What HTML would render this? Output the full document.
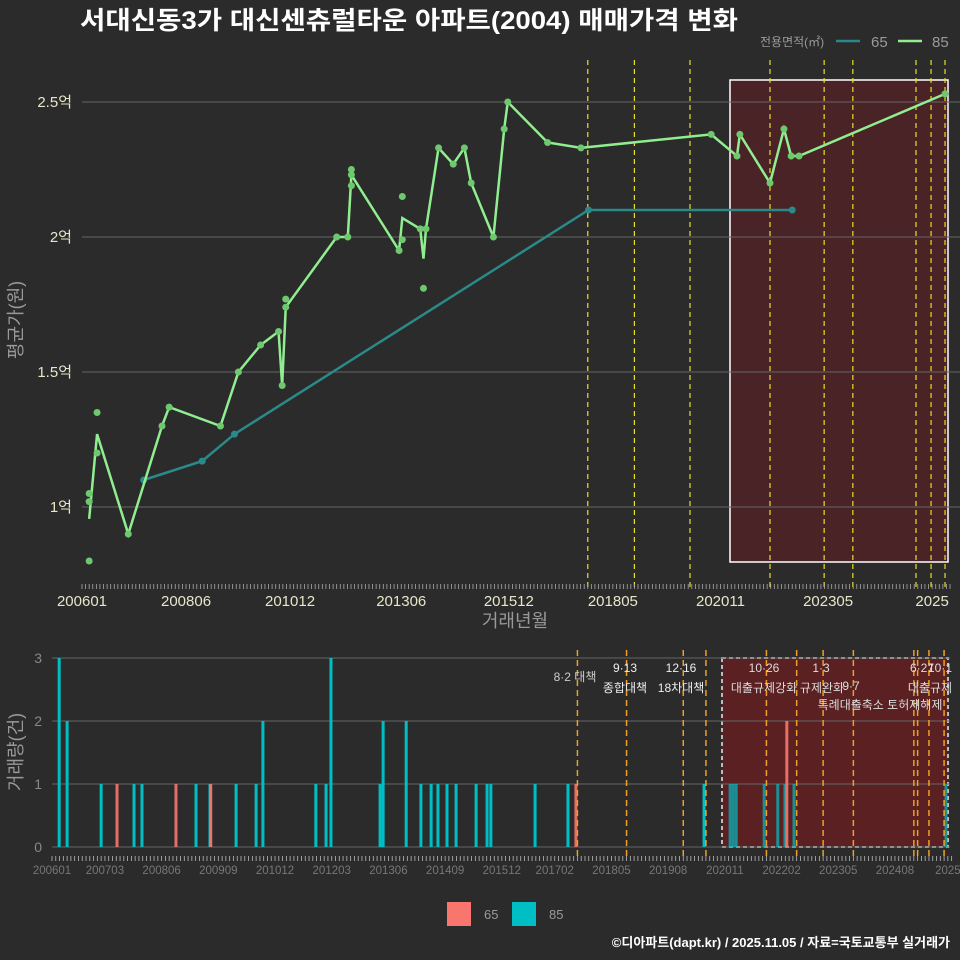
<!DOCTYPE html>
<html><head><meta charset="utf-8"><style>
html,body{margin:0;padding:0;background:#2b2b2b;}
svg{display:block;font-family:"Liberation Sans","Noto Sans CJK KR",sans-serif;}
</style></head><body>
<svg id="c" width="960" height="960" viewBox="0 0 960 960" xmlns="http://www.w3.org/2000/svg">
<rect width="960" height="960" fill="#2b2b2b"/>
<text x="80" y="29" fill="#ffffff" font-size="25" font-weight="bold" textLength="658" lengthAdjust="spacingAndGlyphs">서대신동3가 대신센츄럴타운 아파트(2004) 매매가격 변화</text>
<g>
<text x="760" y="46" fill="#9a9a9a" font-size="12">전용면적(㎡)</text>
<line x1="836" y1="41" x2="860" y2="41" stroke="#2a8a8a" stroke-width="2.5"/>
<text x="871" y="47" fill="#9a9a9a" font-size="15">65</text>
<line x1="898" y1="41" x2="922" y2="41" stroke="#90ee90" stroke-width="2.5"/>
<text x="932" y="47" fill="#9a9a9a" font-size="15">85</text>
</g>
<g id="topChart"></g>
<g id="botChart"></g>
<g>
<rect x="447" y="902" width="24" height="24" fill="#f8766d"/>
<text x="484" y="919" fill="#9a9a9a" font-size="13">65</text>
<rect x="512" y="902" width="24" height="24" fill="#00bfc4"/>
<text x="549" y="919" fill="#9a9a9a" font-size="13">85</text>
</g>
<text x="950" y="947" text-anchor="end" fill="#ffffff" font-size="13" font-weight="bold">©디아파트(dapt.kr) / 2025.11.05 / 자료=국토교통부 실거래가</text>
</svg>
<script>
// ---- top chart data (months since 2006-01, value in 억) ----
const lineMonths85 = [2.0,4.2,12.9,22.3,24.3,38.6,43.6,49.8,54.8,55.8,56.8,71.0,74.1,75.1,88.4,89.3,94.3,95.2,95.9,99.4,103.5,106.6,108.5,114.7,117.7,118.7,129.8,139.1,175.4,182.6,183.4,191.8,195.7,197.7,199.9,240.6];
const lineValues85 = [0.956,1.27,0.90,1.30,1.37,1.30,1.50,1.60,1.65,1.45,1.74,2.0,2.0,2.23,1.95,2.07,2.03,1.92,2.03,2.33,2.27,2.33,2.20,2.0,2.40,2.50,2.35,2.33,2.38,2.30,2.38,2.20,2.40,2.30,2.30,2.53];
const dotMonths85 = [2.0,2.0,2.0,4.2,4.2,12.9,22.3,24.3,38.6,43.6,49.8,54.8,55.8,56.8,56.8,71.0,74.1,75.1,75.1,75.1,88.4,89.3,89.3,94.3,95.2,95.9,99.4,103.5,106.6,108.5,114.7,117.7,118.7,129.8,139.1,175.4,182.6,183.4,191.8,195.7,197.7,199.9,240.6];
const dotValues85 = [1.05,1.02,0.80,1.35,1.20,0.90,1.30,1.37,1.30,1.50,1.60,1.65,1.45,1.74,1.77,2.0,2.0,2.25,2.23,2.19,1.95,2.15,1.99,2.03,1.81,2.03,2.33,2.27,2.33,2.20,2.0,2.40,2.50,2.35,2.33,2.38,2.30,2.38,2.20,2.40,2.30,2.30,2.53];
const lineMonths65 = [17.2,33.5,42.5,141.2,198];
const lineValues65 = [1.10,1.17,1.27,2.10,2.10];
const topEventMonths = [141,154,169.5,191.8,206.9,214.9,232.5,236.7,240.6];
const topYTicks = [1,1.5,2,2.5];
const topYTickLabels = ["1억","1.5억","2억","2.5억"];
const topXTickMonths = [0,29,58,89,119,148,178,208,237];
const topXTickLabels = ["200601","200806","201012","201306","201512","201805","202011","202305","2025"];
// ---- bottom chart data ----
const barMonths85 = [1.9,4,13,21.7,23.8,38.1,41.8,48.7,54,55.8,69.8,72.5,73.8,86.8,87.6,93.7,97.6,100.3,102.1,104.5,106.9,112.2,115.1,116.1,127.8,136.5,172.5,179.4,180.2,181,188.4,192,193.9,196.3,236.5];
const barCounts85 = [3,2,1,1,1,1,1,1,1,2,1,1,3,1,2,2,1,1,1,1,1,1,1,1,1,1,1,1,1,1,1,1,1,1,1];
const barMonths65 = [17.2,32.8,42,138.6,194.4];
const barCounts65 = [1,1,1,1,2];
const botEventMonths = [139,152,167,173,189,197,204,212,228,229,232,236];
const botYTicks = [0,1,2,3];
const botXTickMonths = [0,14,29,44,59,74,89,104,119,133,148,163,178,193,208,223,237];
const botXTickLabels = ["200601","200703","200806","200909","201012","201203","201306","201409","201512","201702","201805","201908","202011","202202","202305","202408","2025"];

const NS="http://www.w3.org/2000/svg";
function mk(p,tag,at){const e=document.createElementNS(NS,tag);for(const k in at)e.setAttribute(k,at[k]);p.appendChild(e);return e;}
const tx=m=>82+m*3.587, ty=v=>507-(v-1)*270;
const bx=m=>52+m*3.78, by=v=>847-v*63;

const topG=document.getElementById('topChart');
let r=mk(topG,'rect',{x:730,y:80,width:218,height:482,fill:'#4a2326',stroke:'#ffffff','stroke-width':1.5});


topYTicks.forEach((v,i)=>{
 let l=mk(topG,'line',{x1:82,x2:960,y1:ty(v),y2:ty(v),stroke:'#666','stroke-width':1});
 
 
 let t=mk(topG,'text',{x:72,y:ty(v)+5,'text-anchor':'end',fill:'#e8e6c8','font-size':15});
 t.textContent=topYTickLabels[i];
 
 
});
topEventMonths.forEach(m=>{
 let l=mk(topG,'line',{x1:tx(m),x2:tx(m),y1:60,y2:588,stroke:'#e8e020','stroke-width':1.2,'stroke-dasharray':'5,4'});
 
 
});
for(let m=0;m<=242;m++){let l=mk(topG,'line',{x1:tx(m),x2:tx(m),y1:584,y2:589,stroke:'#aaa','stroke-width':0.8});
 
 }
topXTickMonths.forEach((m,i)=>{
 let t=mk(topG,'text',{x:tx(m),y:606,'text-anchor':'middle',fill:'#e8e6c8','font-size':15});
 t.textContent=topXTickLabels[i];
 
 
});
let xt=mk(topG,'text',{x:515,y:627,'text-anchor':'middle',fill:'#999','font-size':18});
xt.textContent='거래년월';


let yt=mk(topG,'text',{x:0,y:0,'text-anchor':'middle',fill:'#999','font-size':18,transform:'translate(22,320) rotate(-90)'});
yt.textContent='평균가(원)';


let p65=mk(topG,'polyline',{points:lineMonths65.map((m,i)=>tx(m)+','+ty(lineValues65[i])).join(' '),fill:'none',stroke:'#2a8a8a','stroke-width':2.5});


lineMonths65.forEach((m,i)=>{let c=mk(topG,'circle',{cx:tx(m),cy:ty(lineValues65[i]),r:3.5,fill:'#2a8a8a'});
 
 });
let p85=mk(topG,'polyline',{points:lineMonths85.map((m,i)=>tx(m)+','+ty(lineValues85[i])).join(' '),fill:'none',stroke:'#90ee90','stroke-width':2.5});


dotMonths85.forEach((m,i)=>{let c=mk(topG,'circle',{cx:tx(m),cy:ty(dotValues85[i]),r:3.5,fill:'#6ec86e'});
 
 });

const botG=document.getElementById('botChart');
let r2=mk(botG,'rect',{x:722,y:658,width:226,height:189,fill:'#5a2022',stroke:'#bbbbbb','stroke-width':2,'stroke-dasharray':'4,3'});


botYTicks.forEach(v=>{
 let l=mk(botG,'line',{x1:52,x2:950,y1:by(v),y2:by(v),stroke:'#666','stroke-width':1});
 
 
 let t=mk(botG,'text',{x:42,y:by(v)+5,'text-anchor':'end',fill:'#888','font-size':14});
 t.textContent=String(v);
 
 
});
barMonths85.forEach((m,i)=>{let b=mk(botG,'rect',{x:bx(m)-1.5,y:by(barCounts85[i]),width:3,height:barCounts85[i]*63,fill:'#00bfc4','fill-opacity':m>176?0.7:1});
 
 });
barMonths65.forEach((m,i)=>{let b=mk(botG,'rect',{x:bx(m)-1.5,y:by(barCounts65[i]),width:3,height:barCounts65[i]*63,fill:'#f8766d','fill-opacity':0.9});
 
 });
botEventMonths.forEach(m=>{
 let l=mk(botG,'line',{x1:bx(m),x2:bx(m),y1:650,y2:860,stroke:'#f0a020','stroke-width':1.5,'stroke-dasharray':'6,4'});
 
 
});
for(let m=0;m<=238;m++){let l=mk(botG,'line',{x1:bx(m),x2:bx(m),y1:856,y2:861,stroke:'#bbb','stroke-width':0.8});
 
 }
botXTickMonths.forEach((m,i)=>{
 let t=mk(botG,'text',{x:bx(m),y:874,'text-anchor':'middle',fill:'#777','font-size':11.5});
 t.textContent=botXTickLabels[i];
 
 
});
let yt2=mk(botG,'text',{x:0,y:0,'text-anchor':'middle',fill:'#999','font-size':18,transform:'translate(22,752) rotate(-90)'});
yt2.textContent='거래량(건)';


const annos=[[575,681,'8·2 대책','#ccc'],[625,672,'9·13','#eee'],[625,692,'종합대책','#eee'],[681,672,'12·16','#eee'],[681,692,'18차대책','#eee'],[764,672,'10·26','#ddd'],[764,692,'대출규제강화','#ddd'],[821,672,'1·3','#ddd'],[822,692,'규제완화','#ddd'],[851,690,'9·7','#ddd'],[880,709,'특례대출축소 토허제해제','#ddd'],[922,672,'6·27','#ddd'],[940,672,'10·1','#ddd'],[930,692,'대출규제','#ddd']];
annos.forEach(a=>{let t=mk(botG,'text',{x:a[0],y:a[1],'text-anchor':'middle',fill:a[3],'font-size':12});
 t.textContent=a[2];
 
 });
</script>
</body></html>
